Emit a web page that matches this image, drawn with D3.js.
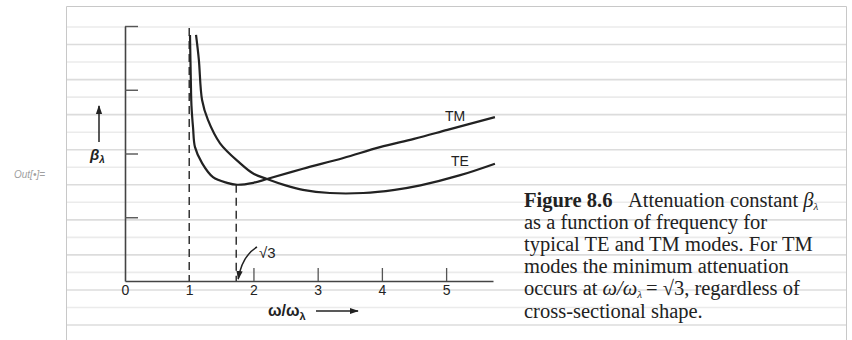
<!DOCTYPE html>
<html>
<head>
<meta charset="utf-8">
<script src="https://cdn.jsdelivr.net/npm/d3@7"></script>
<style>
  body { margin: 0; background: #fff; }
  svg { display: block; }
</style>
</head>
<body>
<script>
var width = 852;
var height = 340;

// values (x = omega/omega_lambda, y = beta_lambda, arbitrary units)
var xTicks = [0, 1, 2, 3, 4, 5];
var yTicks = [1, 2, 3, 4];
var tmX = [1.012, 1.025, 1.035, 1.06, 1.09, 1.20, 1.37, 1.59, 1.745, 2.0, 2.21, 2.77, 3.40, 3.97, 4.50, 5.02, 5.76];
var tmY = [3.86, 3.15, 2.75, 2.40, 2.10, 1.85, 1.63, 1.54, 1.51, 1.54, 1.60, 1.76, 1.93, 2.10, 2.23, 2.37, 2.57];
var teX = [1.106, 1.15, 1.20, 1.29, 1.48, 1.79, 1.99, 2.21, 2.50, 2.77, 3.19, 3.71, 4.20, 4.60, 5.22, 5.76];
var teY = [3.86, 3.47, 2.84, 2.53, 2.16, 1.85, 1.69, 1.60, 1.50, 1.43, 1.38, 1.38, 1.43, 1.50, 1.66, 1.84];
var cutoff = 1;
var tmMin = Math.sqrt(3);

var svg = d3.select("body")
            .append("svg")
            .attr("width", width)
            .attr("height", height);

// notebook frame + ruled lines from the scan
svg.append("text")
    .attr("x", 14)
    .attr("y", 178)
    .attr("font-family", "Liberation Sans")
    .attr("font-style", "italic")
    .attr("font-size", 10)
    .attr("fill", "#a0a0a0")
    .text("Out[\u2022]=");

svg.append("g")
    .selectAll("line")
    .data(d3.range(18).map(function(i) { return 27 + i * 17.53; }))
    .enter()
    .append("line")
    .attr("x1", 67).attr("x2", 846)
    .attr("y1", function(d) { return d; })
    .attr("y2", function(d) { return d; })
    .attr("stroke", function(d, i) { return i % 2 ? "#dcdcdc" : "#ebebeb"; })
    .attr("stroke-width", 1.6);

svg.append("path")
    .attr("d", "M66.5,340V6.5H846.5V340")
    .attr("fill", "none")
    .attr("stroke", "#c8c8c8")
    .attr("stroke-width", 1);

var x = d3.scaleLinear().domain([0, 5.73]).range([125, 493]);
var y = d3.scaleLinear().domain([0, 4]).range([281, 26]);

var ink = "#222";
var sans = "Liberation Sans";

// x axis: ticks point up, labels below
var xAxis = svg.append("g")
    .attr("transform", "translate(0," + y(0) + ")")
    .call(d3.axisBottom(x).tickValues(xTicks).tickFormat(d3.format("d"))
        .tickSizeInner(-13).tickSizeOuter(0).tickPadding(4));
xAxis.select(".domain").attr("stroke", "#444").attr("stroke-width", 1.6);
xAxis.selectAll(".tick line")
    .attr("stroke", "#555")
    .attr("stroke-width", 1.3)
    .attr("display", function(d) { return d < 2 ? "none" : null; });
xAxis.selectAll(".tick text")
    .attr("font-family", sans)
    .attr("font-size", 14)
    .attr("fill", ink);

// y axis: ticks point right, no labels
var yAxis = svg.append("g")
    .attr("transform", "translate(" + x(0) + ",0)")
    .call(d3.axisLeft(y).tickValues(yTicks).tickSizeInner(-13).tickSizeOuter(0).tickFormat(""));
yAxis.select(".domain").attr("stroke", "#444").attr("stroke-width", 1.6);
yAxis.selectAll(".tick line").attr("stroke", "#555").attr("stroke-width", 1.4);

// dashed guides at cutoff and at sqrt(3)
svg.append("line")
    .attr("x1", x(cutoff)).attr("x2", x(cutoff))
    .attr("y1", y(3.97)).attr("y2", y(0))
    .attr("stroke", "#333").attr("stroke-width", 1.5)
    .attr("stroke-dasharray", "8,5");
svg.append("line")
    .attr("x1", x(tmMin)).attr("x2", x(tmMin))
    .attr("y1", y(1.51)).attr("y2", y(0))
    .attr("stroke", "#333").attr("stroke-width", 1.5)
    .attr("stroke-dasharray", "8,5");

var line = d3.line()
    .x(function(d) { return x(d[0]); })
    .y(function(d) { return y(d[1]); })
    .curve(d3.curveCatmullRom.alpha(0.5));

svg.append("path")
    .attr("d", line(d3.zip(tmX, tmY)))
    .attr("fill", "none")
    .attr("stroke", ink)
    .attr("stroke-width", 2.2);
svg.append("path")
    .attr("d", line(d3.zip(teX, teY)))
    .attr("fill", "none")
    .attr("stroke", ink)
    .attr("stroke-width", 2.2);

svg.append("text")
    .attr("x", 445).attr("y", 121)
    .attr("font-family", sans).attr("font-size", 14).attr("fill", ink)
    .text("TM");
svg.append("text")
    .attr("x", 451).attr("y", 166)
    .attr("font-family", sans).attr("font-size", 14).attr("fill", ink)
    .text("TE");

// arrow heads
var defs = svg.append("defs");
defs.append("marker")
    .attr("id", "head")
    .attr("viewBox", "0 0 10 10")
    .attr("refX", 9).attr("refY", 5)
    .attr("markerWidth", 9).attr("markerHeight", 9)
    .attr("markerUnits", "userSpaceOnUse")
    .attr("orient", "auto")
    .append("path")
    .attr("d", "M0,1.5L10,5L0,8.5Z")
    .attr("fill", ink);

// sqrt(3) pointer
svg.append("path")
    .attr("d", "M257,247Q242,256," + (x(tmMin) + 2) + "," + (y(0) - 2))
    .attr("fill", "none")
    .attr("stroke", ink)
    .attr("stroke-width", 1.5)
    .attr("marker-end", "url(#head)");
svg.append("text")
    .attr("x", 259).attr("y", 258)
    .attr("font-family", sans).attr("font-size", 15).attr("fill", ink)
    .text("\u221A3");

// axis titles with arrows
var xt = svg.append("text")
    .attr("x", 268).attr("y", 316)
    .attr("font-family", sans).attr("font-weight", "bold").attr("font-size", 16).attr("fill", ink);
xt.append("tspan").text("\u03C9/\u03C9");
xt.append("tspan").attr("font-size", 11).attr("dy", 4).text("\u03BB");
svg.append("line")
    .attr("x1", 316).attr("x2", 358)
    .attr("y1", 311).attr("y2", 311)
    .attr("stroke", ink).attr("stroke-width", 1.5)
    .attr("marker-end", "url(#head)");

var yt = svg.append("text")
    .attr("x", 90).attr("y", 160)
    .attr("font-family", sans).attr("font-style", "italic").attr("font-weight", "bold")
    .attr("font-size", 15).attr("fill", ink);
yt.append("tspan").text("\u03B2");
yt.append("tspan").attr("font-size", 10).attr("dy", 3).text("\u03BB");
svg.append("line")
    .attr("x1", 99).attr("x2", 99)
    .attr("y1", 142).attr("y2", 106)
    .attr("stroke", ink).attr("stroke-width", 1.5)
    .attr("marker-end", "url(#head)");

// caption
var serif = "Liberation Serif";
var cap = svg.append("g")
    .attr("font-family", serif)
    .attr("font-size", 20.5)
    .attr("fill", "#222");

var l1 = cap.append("text").attr("x", 524).attr("y", 207);
l1.append("tspan").attr("font-weight", "bold").text("Figure 8.6");
l1.append("tspan").attr("x", 628).text("Attenuation constant ");
l1.append("tspan").attr("font-style", "italic").text("\u03B2");
l1.append("tspan").attr("font-style", "italic").attr("font-size", 11).attr("dy", 3).text("\u03BB");

cap.append("text").attr("x", 524).attr("y", 229).text("as a function of frequency for");
cap.append("text").attr("x", 524).attr("y", 251).text("typical TE and TM modes. For TM");
cap.append("text").attr("x", 524).attr("y", 273).text("modes the minimum attenuation");

var l5 = cap.append("text").attr("x", 524).attr("y", 295);
l5.append("tspan").text("occurs at ");
l5.append("tspan").attr("font-style", "italic").text("\u03C9/\u03C9");
l5.append("tspan").attr("font-style", "italic").attr("font-size", 11).attr("dy", 3).text("\u03BB");
l5.append("tspan").attr("dy", -3).attr("dx", 4).text("= \u221A3, regardless of");

cap.append("text").attr("x", 524).attr("y", 318).text("cross-sectional shape.");
</script>
</body>
</html>
